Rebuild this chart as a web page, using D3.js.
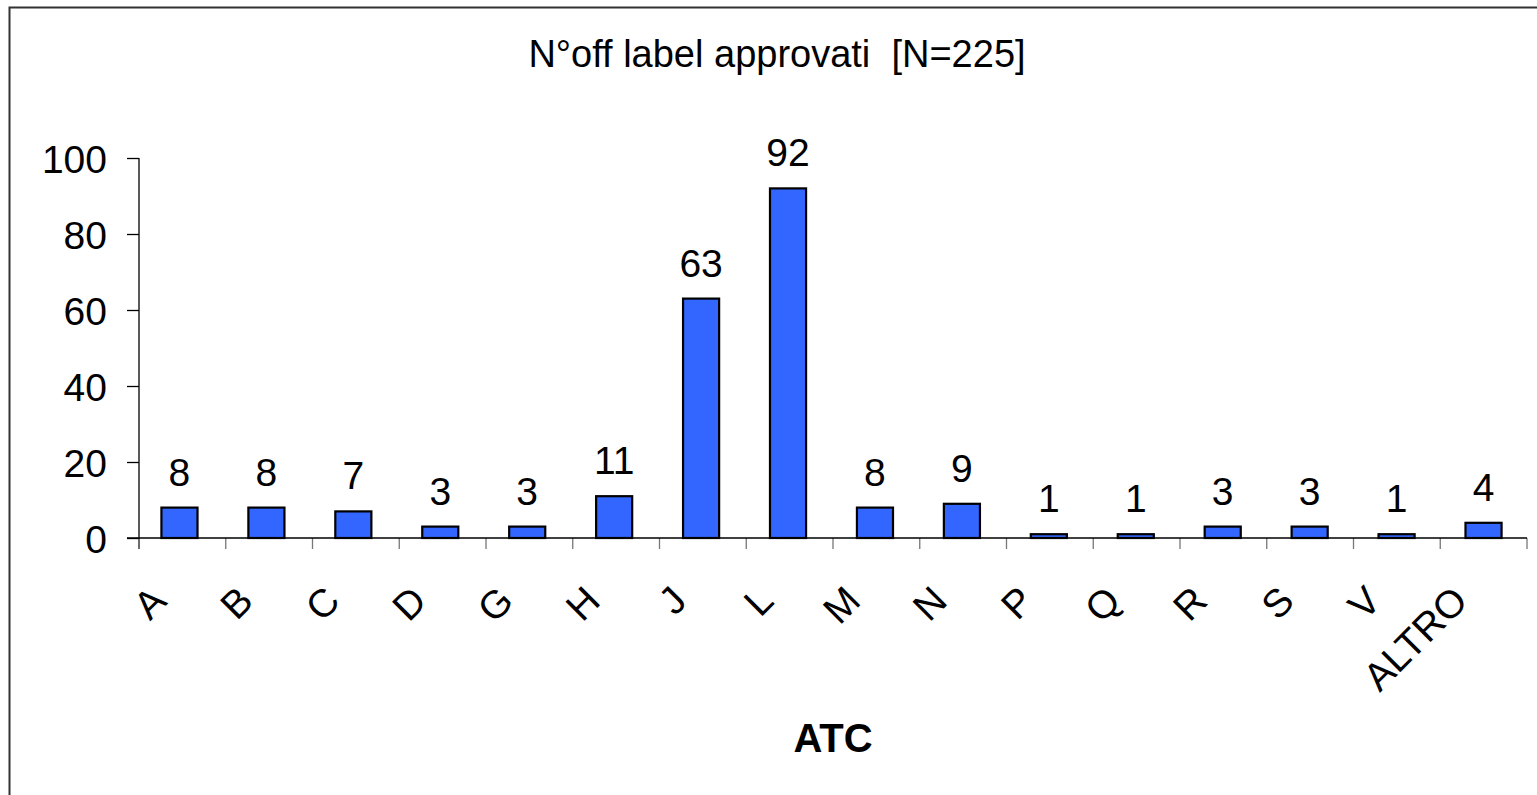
<!DOCTYPE html>
<html>
<head>
<meta charset="utf-8">
<script src="https://cdn.jsdelivr.net/npm/d3@7"></script>
<style>
  html, body { margin: 0; padding: 0; background: #fff; overflow: hidden; }
  svg { display: block; }
  text { font-family: "Liberation Sans", Arial, sans-serif; fill: #000; white-space: pre; }
</style>
</head>
<body>
<svg id="chart" width="1537" height="795"></svg>
<script>
// ATC groups and number of approved off-label uses
const categories = ["A", "B", "C", "D", "G", "H", "J", "L", "M", "N", "P", "Q", "R", "S", "V", "ALTRO"];
const values = [8, 8, 7, 3, 3, 11, 63, 92, 8, 9, 1, 1, 3, 3, 1, 4];
const yTicks = [0, 20, 40, 60, 80, 100];
const titleText = "N°off label approvati  [N=225]";
const xTitle = "ATC";

const svg = d3.select("#chart");
const plot = { left: 139, right: 1527, top: 158, bottom: 538 };
const fontSize = 39;

// outer chart frame (runs past the right and bottom edges)
svg.append("rect")
  .attr("x", 9.5).attr("y", 7.5)
  .attr("width", 1700).attr("height", 900)
  .attr("fill", "#fff")
  .attr("stroke", "#333").attr("stroke-width", 2);

// bar positions inside each category slot
const x = d3.scaleBand()
  .domain(categories)
  .range([plot.left - 3, plot.right])
  .paddingInner(0.585)
  .paddingOuter(0.2925);

// full category slots (for boundary ticks and labels)
const xCat = d3.scaleBand().domain(categories).range([plot.left, plot.right]);

const y = d3.scaleLinear().domain([0, 100]).range([plot.bottom, plot.top]);

// title
svg.append("text")
  .attr("x", 777).attr("y", 67)
  .attr("text-anchor", "middle")
  .style("font-size", "38px")
  .text(titleText);

// y axis
const yAxis = d3.axisLeft(y).tickValues(yTicks).tickSize(12).tickPadding(20);
const gy = svg.append("g")
  .attr("transform", `translate(${plot.left},0)`)
  .call(yAxis);
gy.select(".domain").attr("stroke", "#000").attr("stroke-width", 1.3)
  .attr("d", `M0,${plot.top}V${plot.bottom + 11}`);
gy.selectAll(".tick line").attr("stroke", "#000").attr("stroke-width", 1.3);
gy.selectAll(".tick text")
  .style("font-size", fontSize + "px")
  .style("font-family", '"Liberation Sans", Arial, sans-serif')
  .attr("fill", "#000")
  .attr("dy", "0.36em");

// x axis: tick marks at category boundaries
const boundaries = categories.map(c => xCat(c)).concat([plot.right]);
svg.append("g").selectAll("line")
  .data(boundaries)
  .join("line")
  .attr("x1", d => d).attr("x2", d => d)
  .attr("y1", plot.bottom).attr("y2", plot.bottom + 11)
  .attr("stroke", "#777").attr("stroke-width", 1.3);

svg.append("line")
  .attr("x1", plot.left - 12).attr("x2", plot.right)
  .attr("y1", plot.bottom).attr("y2", plot.bottom)
  .attr("stroke", "#000").attr("stroke-width", 1.3);

// bars
svg.append("g").selectAll("rect")
  .data(values)
  .join("rect")
  .attr("x", (d, i) => x(categories[i]))
  .attr("width", x.bandwidth())
  .attr("y", d => y(d))
  .attr("height", d => y(0) - y(d))
  .attr("fill", "#3366FF")
  .attr("stroke", "#000")
  .attr("stroke-width", 2.2);

// value labels
svg.append("g").selectAll("text")
  .data(values)
  .join("text")
  .attr("x", (d, i) => x(categories[i]) + x.bandwidth() / 2)
  .attr("y", d => y(d) - 22)
  .attr("text-anchor", "middle")
  .style("font-size", fontSize + "px")
  .text(d => d);

// rotated category labels
svg.append("g").selectAll("text")
  .data(categories)
  .join("text")
  .attr("transform", c => `translate(${xCat(c) + xCat.bandwidth() / 2 - 14},603) rotate(-45)`)
  .attr("text-anchor", "end")
  .style("font-size", fontSize + "px")
  .text(c => c);

// x axis title
svg.append("text")
  .attr("x", (plot.left + plot.right) / 2).attr("y", 752)
  .attr("text-anchor", "middle")
  .style("font-size", "40px")
  .style("font-weight", "bold")
  .text(xTitle);
</script>
</body>
</html>
